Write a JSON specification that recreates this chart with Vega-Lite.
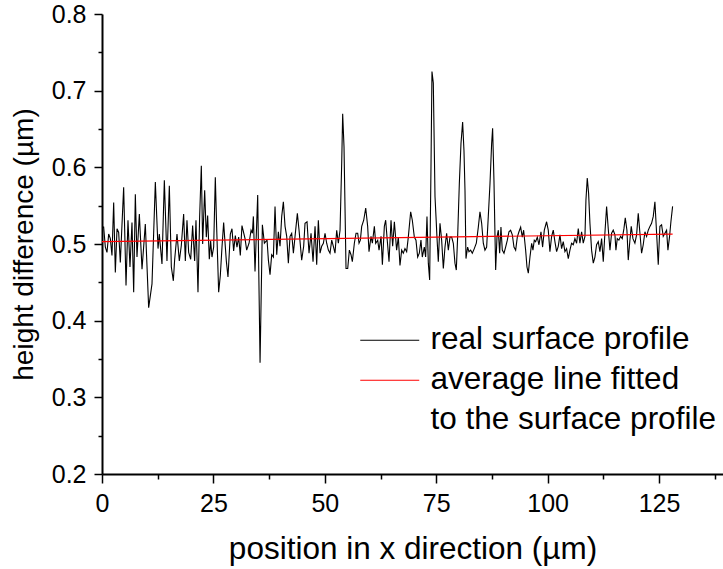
{
  "$schema": "https://vega.github.io/schema/vega-lite/v6.json",
  "autosize": {"type": "none"},
  "padding": {"left": 102, "top": 14, "right": 0, "bottom": 95},
  "width": 621,
  "height": 460,
  "background": "white",
  "config": {
    "view": {"stroke": null},
    "font": "Liberation Sans",
    "axis": {
      "domainColor": "black",
      "domainWidth": 2,
      "tickColor": "black",
      "tickWidth": 1.5,
      "grid": false,
      "labelFont": "Liberation Sans",
      "labelFontSize": 25,
      "labelColor": "black",
      "titleFont": "Liberation Sans",
      "titleFontSize": 31.5,
      "titleFontWeight": "normal",
      "titleColor": "black",
      "labelOverlap": false,
      "labelFlush": false
    }
  },
  "datasets": {
    "profile": [
      {"x":0,"y":0.522},{"x":0.37,"y":0.522},{"x":0.75,"y":0.496},{"x":1.12,"y":0.489},{"x":1.5,"y":0.513},{"x":1.87,"y":0.507},{"x":2.24,"y":0.485},{"x":2.62,"y":0.554},{"x":2.99,"y":0.463},{"x":3.37,"y":0.52},{"x":3.74,"y":0.515},{"x":4.11,"y":0.476},{"x":4.86,"y":0.574},{"x":5.39,"y":0.446},{"x":5.83,"y":0.531},{"x":6.28,"y":0.47},{"x":6.73,"y":0.528},{"x":7.11,"y":0.437},{"x":7.48,"y":0.565},{"x":7.85,"y":0.483},{"x":8.38,"y":0.539},{"x":8.98,"y":0.467},{"x":9.72,"y":0.526},{"x":10.47,"y":0.417},{"x":11.22,"y":0.448},{"x":11.97,"y":0.581},{"x":12.57,"y":0.494},{"x":12.86,"y":0.513},{"x":13.46,"y":0.474},{"x":13.99,"y":0.583},{"x":14.58,"y":0.478},{"x":15.11,"y":0.576},{"x":15.56,"y":0.47},{"x":16.01,"y":0.452},{"x":16.31,"y":0.48},{"x":16.83,"y":0.513},{"x":17.35,"y":0.478},{"x":17.8,"y":0.498},{"x":18.32,"y":0.539},{"x":18.7,"y":0.478},{"x":19.07,"y":0.531},{"x":19.45,"y":0.489},{"x":19.9,"y":0.48},{"x":20.34,"y":0.524},{"x":20.79,"y":0.478},{"x":21.09,"y":0.531},{"x":21.54,"y":0.437},{"x":21.91,"y":0.535},{"x":22.29,"y":0.602},{"x":22.59,"y":0.5},{"x":23.04,"y":0.57},{"x":23.41,"y":0.509},{"x":23.71,"y":0.537},{"x":24.08,"y":0.48},{"x":24.38,"y":0.504},{"x":24.68,"y":0.483},{"x":25.06,"y":0.496},{"x":25.43,"y":0.587},{"x":25.73,"y":0.522},{"x":26.18,"y":0.437},{"x":26.55,"y":0.459},{"x":26.93,"y":0.496},{"x":27.3,"y":0.528},{"x":27.52,"y":0.509},{"x":27.9,"y":0.478},{"x":28.27,"y":0.457},{"x":28.8,"y":0.513},{"x":29.17,"y":0.52},{"x":29.54,"y":0.491},{"x":29.92,"y":0.511},{"x":30.29,"y":0.496},{"x":30.67,"y":0.509},{"x":31.04,"y":0.485},{"x":31.41,"y":0.524},
      {"x":32.1,"y":0.507},{"x":32.47,"y":0.492},{"x":33.0,"y":0.501},{"x":33.45,"y":0.518},{"x":33.75,"y":0.514},{"x":33.97,"y":0.536},{"x":34.34,"y":0.464},{"x":34.94,"y":0.564},{"x":35.47,"y":0.345},{"x":35.99,"y":0.525},{"x":36.44,"y":0.501},{"x":36.74,"y":0.503},{"x":37.04,"y":0.505},{"x":37.34,"y":0.479},{"x":37.71,"y":0.46},{"x":38.08,"y":0.486},{"x":38.46,"y":0.483},{"x":38.83,"y":0.549},{"x":39.21,"y":0.486},{"x":39.58,"y":0.516},{"x":39.95,"y":0.497},{"x":40.33,"y":0.536},{"x":40.7,"y":0.555},{"x":41.08,"y":0.523},{"x":41.45,"y":0.51},{"x":41.82,"y":0.475},{"x":42.2,"y":0.51},{"x":42.57,"y":0.514},{"x":42.95,"y":0.488},{"x":43.32,"y":0.51},{"x":43.84,"y":0.54},{"x":44.22,"y":0.518},{"x":44.81,"y":0.479},{"x":45.26,"y":0.497},{"x":45.56,"y":0.527},{"x":46.01,"y":0.529},{"x":46.46,"y":0.488},{"x":46.91,"y":0.514},{"x":47.36,"y":0.477},{"x":47.81,"y":0.523},{"x":48.18,"y":0.473},{"x":48.55,"y":0.531},{"x":48.93,"y":0.488},{"x":49.3,"y":0.497},{"x":49.68,"y":0.501},{"x":50.05,"y":0.514},{"x":50.42,"y":0.501},{"x":50.8,"y":0.492},{"x":51.17,"y":0.488},{"x":51.55,"y":0.505},{"x":51.92,"y":0.497},{"x":52.29,"y":0.488},{"x":52.67,"y":0.518},{"x":53.04,"y":0.501},{"x":53.42,"y":0.518},{"x":53.79,"y":0.605},{"x":54.01,"y":0.67},{"x":54.31,"y":0.627},{"x":54.76,"y":0.468},{"x":55.14,"y":0.468},{"x":55.51,"y":0.492},{"x":55.88,"y":0.486},{"x":56.18,"y":0.477},{"x":56.63,"y":0.501},{"x":57.01,"y":0.514},{"x":57.38,"y":0.514},{"x":57.68,"y":0.501},{"x":57.98,"y":0.505},{"x":58.28,"y":0.523},{"x":58.73,"y":0.531},{"x":59.18,"y":0.547},{"x":59.62,"y":0.523},{"x":59.92,"y":0.49},{"x":60.37,"y":0.51},{"x":60.67,"y":0.501},{"x":61.12,"y":0.523},{"x":61.42,"y":0.501},{"x":61.87,"y":0.505},{"x":62.17,"y":0.492},{"x":62.62,"y":0.51},{"x":62.92,"y":0.473},{"x":63.36,"y":0.523},{"x":63.66,"y":0.531},{"x":64.04,"y":0.503},{"x":64.41,"y":0.477},{"x":64.86,"y":0.531},{"x":65.23,"y":0.497},{"x":65.61,"y":0.529},
      {"x":66.12,"y":0.492},{"x":66.5,"y":0.509},{"x":66.87,"y":0.472},{"x":67.25,"y":0.492},{"x":67.62,"y":0.488},{"x":67.99,"y":0.494},{"x":68.37,"y":0.49},{"x":68.74,"y":0.509},{"x":69.27,"y":0.542},{"x":69.64,"y":0.531},{"x":70.09,"y":0.509},{"x":70.46,"y":0.505},{"x":70.84,"y":0.483},{"x":71.21,"y":0.488},{"x":71.58,"y":0.505},{"x":71.88,"y":0.483},{"x":72.33,"y":0.496},{"x":72.63,"y":0.483},{"x":72.93,"y":0.536},{"x":73.23,"y":0.475},{"x":73.53,"y":0.453},{"x":73.83,"y":0.601},{"x":74.05,"y":0.725},{"x":74.35,"y":0.71},{"x":74.73,"y":0.562},{"x":74.95,"y":0.536},{"x":75.17,"y":0.509},{"x":75.47,"y":0.477},{"x":75.85,"y":0.527},{"x":76.22,"y":0.505},{"x":76.6,"y":0.468},{"x":76.97,"y":0.496},{"x":77.34,"y":0.514},{"x":77.72,"y":0.492},{"x":78.09,"y":0.509},{"x":78.47,"y":0.509},{"x":78.84,"y":0.501},{"x":79.21,"y":0.475},{"x":79.51,"y":0.466},{"x":79.81,"y":0.509},{"x":80.19,"y":0.579},{"x":80.56,"y":0.631},{"x":80.93,"y":0.659},{"x":81.23,"y":0.622},{"x":81.46,"y":0.57},{"x":81.68,"y":0.481},{"x":82.05,"y":0.496},{"x":82.35,"y":0.49},{"x":82.73,"y":0.492},{"x":83.1,"y":0.488},{"x":83.55,"y":0.494},{"x":84.0,"y":0.501},{"x":84.45,"y":0.522},{"x":84.82,"y":0.542},{"x":85.2,"y":0.527},{"x":85.57,"y":0.501},{"x":85.94,"y":0.492},{"x":86.32,"y":0.496},{"x":86.69,"y":0.536},{"x":87.07,"y":0.579},{"x":87.44,"y":0.631},{"x":87.66,"y":0.651},{"x":87.96,"y":0.583},{"x":88.34,"y":0.466},{"x":88.64,"y":0.509},{"x":88.94,"y":0.518},{"x":89.24,"y":0.488},{"x":89.53,"y":0.522},{"x":89.83,"y":0.492},{"x":90.21,"y":0.488},{"x":90.58,"y":0.496},{"x":90.96,"y":0.505},{"x":91.33,"y":0.516},{"x":91.7,"y":0.518},{"x":92.08,"y":0.512},{"x":92.45,"y":0.496},{"x":92.83,"y":0.492},{"x":93.2,"y":0.509},{"x":93.57,"y":0.516},{"x":93.95,"y":0.522},{"x":94.32,"y":0.509},{"x":94.62,"y":0.518},{"x":95.07,"y":0.492},{"x":95.37,"y":0.47},{"x":95.67,"y":0.462},{"x":96.04,"y":0.483},{"x":96.42,"y":0.501},{"x":96.71,"y":0.492},{"x":97.01,"y":0.505},{"x":97.31,"y":0.503},{"x":97.69,"y":0.509},{"x":98.06,"y":0.499},{"x":98.51,"y":0.516},{"x":98.88,"y":0.496},{"x":99.26,"y":0.518},
      {"x":99.77,"y":0.529},{"x":100.15,"y":0.518},{"x":100.52,"y":0.49},{"x":100.9,"y":0.51},{"x":101.27,"y":0.518},{"x":101.64,"y":0.503},{"x":102.02,"y":0.49},{"x":102.39,"y":0.497},{"x":102.77,"y":0.512},{"x":103.14,"y":0.494},{"x":103.51,"y":0.503},{"x":103.89,"y":0.49},{"x":104.26,"y":0.494},{"x":104.64,"y":0.481},{"x":105.01,"y":0.492},{"x":105.38,"y":0.501},{"x":105.76,"y":0.499},{"x":106.13,"y":0.507},{"x":106.51,"y":0.501},{"x":106.88,"y":0.52},{"x":107.25,"y":0.501},{"x":107.63,"y":0.516},{"x":108.0,"y":0.501},{"x":108.38,"y":0.51},{"x":108.6,"y":0.557},{"x":108.9,"y":0.586},{"x":109.2,"y":0.566},{"x":109.5,"y":0.527},{"x":109.87,"y":0.492},{"x":110.25,"y":0.475},{"x":110.62,"y":0.483},{"x":110.99,"y":0.499},{"x":111.37,"y":0.503},{"x":111.74,"y":0.49},{"x":112.12,"y":0.507},{"x":112.49,"y":0.477},{"x":112.86,"y":0.514},{"x":113.24,"y":0.549},{"x":113.61,"y":0.52},{"x":113.99,"y":0.492},{"x":114.36,"y":0.514},{"x":114.73,"y":0.518},{"x":115.11,"y":0.512},{"x":115.33,"y":0.492},{"x":115.63,"y":0.507},{"x":116.0,"y":0.505},{"x":116.38,"y":0.51},{"x":116.75,"y":0.507},{"x":117.13,"y":0.52},{"x":117.43,"y":0.534},{"x":117.8,"y":0.518},{"x":118.1,"y":0.479},{"x":118.47,"y":0.505},{"x":118.77,"y":0.523},{"x":119.15,"y":0.507},{"x":119.59,"y":0.501},{"x":119.97,"y":0.512},{"x":120.34,"y":0.54},{"x":120.72,"y":0.514},{"x":121.09,"y":0.488},{"x":121.46,"y":0.499},{"x":121.84,"y":0.516},{"x":122.21,"y":0.51},{"x":122.59,"y":0.518},{"x":122.96,"y":0.523},{"x":123.33,"y":0.527},{"x":123.71,"y":0.536},{"x":124.08,"y":0.555},{"x":124.46,"y":0.514},{"x":124.83,"y":0.473},{"x":125.2,"y":0.523},{"x":125.58,"y":0.525},{"x":125.95,"y":0.51},{"x":126.33,"y":0.514},{"x":126.7,"y":0.518},{"x":127.0,"y":0.492},{"x":127.37,"y":0.51},{"x":127.67,"y":0.529},{"x":128.05,"y":0.549}
    ],
    "fit": [
      {"x":0,"y":0.503},{"x":128.05,"y":0.513}
    ]
  },
  "encoding": {
    "x": {
      "field": "x", "type": "quantitative",
      "scale": {"domain": [0, 139.36], "nice": false, "zero": false},
      "axis": {
        "values": [0,12.5,25,37.5,50,62.5,75,87.5,100,112.5,125,137.5],
        "labelExpr": "datum.value % 25 == 0 ? format(datum.value, 'd') : ''",
        "tickSize": {"condition": {"test": "datum.value % 25 == 0", "value": 9}, "value": 5},
        "labelPadding": 8,
        "title": "position in x direction (µm)",
        "titlePadding": 17
      }
    },
    "y": {
      "field": "y", "type": "quantitative",
      "scale": {"domain": [0.2, 0.8], "nice": false, "zero": false},
      "axis": {
        "values": [0.2,0.25,0.3,0.35,0.4,0.45,0.5,0.55,0.6,0.65,0.7,0.75,0.8],
        "labelExpr": "round(datum.value*100) % 10 == 0 ? format(datum.value, '.1f') : ''",
        "tickSize": {"condition": {"test": "round(datum.value*100) % 10 == 0", "value": 8}, "value": 4},
        "labelPadding": 8,
        "title": "height difference (µm)",
        "titleFontSize": 28,
        "titlePadding": 13
      }
    },
    "color": {
      "field": "series", "type": "nominal",
      "scale": {
        "domain": ["real surface profile", "average line fitted", "to the surface profile"],
        "range": ["#000000", "#ff0000", "transparent"]
      },
      "legend": {
        "orient": "none",
        "legendX": 272,
        "legendY": 310.5,
        "title": null,
        "symbolType": "M -2 0 L 2 0",
        "symbolSize": 870,
        "symbolStrokeWidth": 1,
        "labelFont": "Liberation Sans",
        "labelFontSize": 31.5,
        "labelColor": "black",
        "labelOffset": 25,
        "rowPadding": 7,
        "labelLimit": 500
      }
    }
  },
  "layer": [
    {
      "data": {"name": "profile"},
      "transform": [{"calculate": "'real surface profile'", "as": "series"}],
      "mark": {"type": "line", "strokeWidth": 1.1, "interpolate": "linear"}
    },
    {
      "data": {"name": "fit"},
      "transform": [{"calculate": "'average line fitted'", "as": "series"}],
      "mark": {"type": "line", "strokeWidth": 1.2}
    }
  ]
}
